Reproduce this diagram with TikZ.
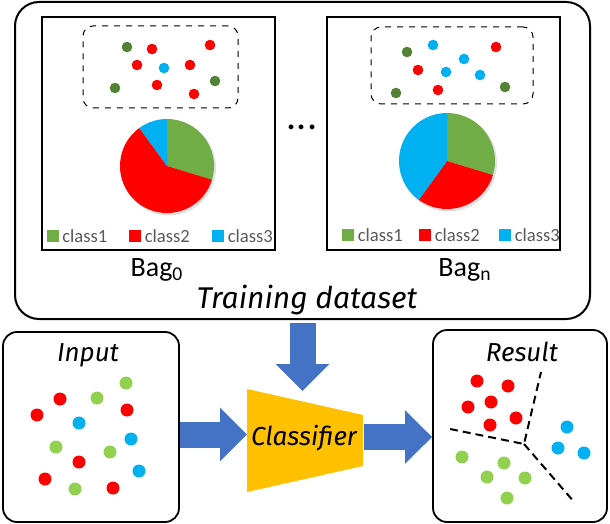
\documentclass[tikz,border=0pt]{standalone}
\usepackage{fontspec}
\setmainfont{Carlito}
\newfontfamily\labfont{Fira Sans}
\usetikzlibrary{positioning,arrows.meta}
\definecolor{pgreen}{HTML}{70AD47}
\definecolor{dgreen}{HTML}{548235}
\definecolor{lgreen}{HTML}{92D050}
\definecolor{cred}{HTML}{FF0000}
\definecolor{cblue}{HTML}{00B0F0}
\definecolor{arrblue}{HTML}{4472C4}
\definecolor{clfyellow}{HTML}{FFC000}
\definecolor{legray}{HTML}{595959}
\begin{document}
\begin{tikzpicture}[x=0.5pt, y=0.5pt,
  outer/.style = {draw, line width=1pt, rounded corners=12pt, inner sep=0},
  side/.style = {draw, line width=0.9pt, rounded corners=7pt, inner sep=0},
  bag/.style = {draw, line width=0.8pt, inner sep=0},
  pool/.style = {draw, dashed, line width=0.5pt, rounded corners=5pt, inner sep=0},
  bagdot/.style = {circle, inner sep=0, minimum size=5.3pt},
  dot/.style = {circle, inner sep=0, minimum size=6.5pt},
  legsq/.style = {inner sep=0, minimum size=6pt},
  legtxt/.style = {inner sep=0, text=legray, font=\fontsize{9.3}{9.3}\selectfont},
  baglab/.style = {font=\fontsize{14}{14}\selectfont},
  title/.style = {font=\labfont\itshape\fontsize{13}{13}\selectfont},
  blockarrow/.style = {arrblue, line width=13pt, -{Triangle[length=13.5pt, width=26pt]}},
  sep/.style = {line width=1pt, dash pattern=on 4pt off 2.5pt}]
\useasboundingbox (0,0) rectangle (610,-524);

\node[outer, minimum width=287.5pt, minimum height=158.5pt] (train) at (302.5,-160.5) {};
\node[bag, minimum width=116.5pt, minimum height=116.5pt] (bag0) at (158.5,-133.5) {};
\node[bag, minimum width=116.5pt, minimum height=116.5pt] (bagn) at (443.5,-133.5) {};
\node[pool, minimum width=77.5pt, minimum height=41pt] (pool0) at (160.5,-67) {};
\node[pool, minimum width=81pt, minimum height=38.5pt] (pooln) at (452,-65.5) {};

\foreach \px/\py/\c [count=\i] in {127/47/dgreen, 152/49/cred, 210/45/cred, 137/65/cred,
    164/68/cblue, 190/65/cred, 215/81/dgreen, 115/88/dgreen, 157/85/cred, 194/94/cred}
  \node[bagdot, fill=\c] (a\i) at (\px,-\py) {};
\foreach \px/\py/\c [count=\i] in {407/52/dgreen, 433/45/cblue, 496/47/cred, 464/59/cblue,
    418/70/cred, 446/72/cblue, 480/75/cblue, 396/93/dgreen, 438/90/cred, 505/87/dgreen}
  \node[bagdot, fill=\c] (b\i) at (\px,-\py) {};

\coordinate (pie0) at (167,-166);
\fill[black!12] ([shift={(1.5,-2)}]pie0) circle[radius=47.5];
\fill[pgreen] (pie0) -- ++(90:47) arc[start angle=90, end angle=-17, radius=47] -- cycle;
\fill[cred] (pie0) -- ++(-17:47) arc[start angle=-17, end angle=-234, radius=47] -- cycle;
\fill[cblue] (pie0) -- ++(126:47) arc[start angle=126, end angle=90, radius=47] -- cycle;
\coordinate (pien) at (447,-161);
\fill[black!12] ([shift={(1.5,-2)}]pien) circle[radius=48.5];
\fill[pgreen] (pien) -- ++(90:48) arc[start angle=90, end angle=-17, radius=48] -- cycle;
\fill[cred] (pien) -- ++(-17:48) arc[start angle=-17, end angle=-126, radius=48] -- cycle;
\fill[cblue] (pien) -- ++(234:48) arc[start angle=234, end angle=90, radius=48] -- cycle;

\foreach \sx/\c/\t [count=\i] in {52.5/pgreen/class1, 135/cred/class2, 218/cblue/class3} {
  \node[legsq, fill=\c] (s\i) at (\sx,-236) {};
  \node[legtxt, right=1.5pt of s\i] (t\i) {\t};
}
\foreach \sx/\c/\t [count=\i] in {348/pgreen/class1, 425/cred/class2, 505/cblue/class3} {
  \node[legsq, fill=\c] (sn\i) at (\sx,-235) {};
  \node[legtxt, right=1.5pt of sn\i] (tn\i) {\t};
}

\node[baglab] (lab0) at (157,-270) {Bag\textsubscript{0}};
\node[baglab] (labn) at (465,-270) {Bag\textsubscript{n}};
\node[font=\fontsize{20}{20}\selectfont] (etc) at (302,-127) {...};
\node[title, font=\labfont\itshape\fontsize{15}{15}\selectfont] (traintxt) at (307,-300) {Training dataset};

\node[side, minimum width=88pt, minimum height=95pt] (input) at (91,-427) {};
\node[side, minimum width=87pt, minimum height=96pt] (result) at (520,-426) {};
\node[title] (inlab) at (88,-355) {Input};
\node[title] (reslab) at (522,-352) {Result};

\foreach \px/\py/\c [count=\i] in {126/383/lgreen, 60/399/cred, 97/398/lgreen, 37/415/cred,
    127/410/cred, 79/423/cblue, 131/439/cblue, 56/447/lgreen, 110/452/lgreen, 79/462/cred,
    139/471/cblue, 45/479/cred, 75/489/lgreen, 113/488/cred}
  \node[dot, fill=\c] (p\i) at (\px,-\py) {};

\fill[clfyellow] (247,-389) -- (363,-415) -- (363,-466) -- (247,-492) -- cycle;
\node[title] (clf) at (304,-438) {Classifier};
\coordinate (clfw) at (247,-434.5);
\coordinate (clfn) at (302.5,-391);
\coordinate (clfe) at (364,-437);

\draw[blockarrow] ([yshift=-1.5pt]train.south) -- (clfn);
\draw[blockarrow] (input.east |- clfw) -- (clfw);
\draw[blockarrow] (clfe) -- (result.west |- clfe);

\foreach \px/\py/\c [count=\i] in {477/381/cred, 508/386/cred, 468/407/cred, 491/402/cred,
    490/425/cred, 516/418/cred, 567/427/cblue, 558/448/cblue, 584/453/cblue,
    462/457/lgreen, 504/463/lgreen, 487/477/lgreen, 525/478/lgreen, 507/498/lgreen}
  \node[dot, fill=\c] (r\i) at (\px,-\py) {};

\coordinate (yc) at (524,-444);
\coordinate (yu) at (541,-372);
\coordinate (yl) at (450,-429);
\coordinate (yd) at (575,-503);
\draw[sep] (yl) -- (yc) -- (yu);
\draw[sep] (yc) -- (yd);
\end{tikzpicture}
\end{document}
